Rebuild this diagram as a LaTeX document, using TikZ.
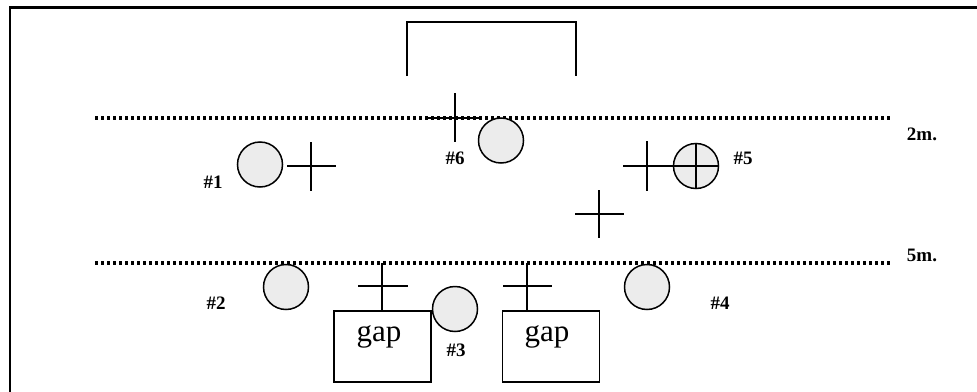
\documentclass[tikz,border=0pt]{standalone}
\usepackage{fontspec}
\setmainfont{Liberation Serif}
\begin{document}
\begin{tikzpicture}[x=1pt,y=-1pt,
  ball/.style={circle,draw,line width=1.5pt,fill=gray!15,minimum size=45pt,inner sep=0pt},
  tag/.style={font=\bfseries\fontsize{19}{19}\selectfont,inner sep=0pt},
  crossline/.style={line width=1.5pt},
  dotline/.style={line width=3.2pt,dash pattern=on 3pt off 3pt},
  gapbox/.style={draw,line width=1.4pt,minimum width=97pt,minimum height=71pt,inner sep=0pt},
  gaptext/.style={font=\fontsize{31}{31}\selectfont,inner sep=0pt},
  framestyle/.style={line width=2.6pt},
  goalstyle/.style={line width=1.6pt}
]
\useasboundingbox (0,0) rectangle (977,391);
% frame
\draw[framestyle] (10,395) -- (10,7.5) -- (980,7.5);
% goal
\coordinate (gl) at (407,76);
\coordinate (gr) at (576,76);
\draw[goalstyle] (gl) -- (407,22) -- (576,22) -- (gr);
% dotted lines
\coordinate (d1a) at (95,118);
\coordinate (d1b) at (891,118);
\coordinate (d2a) at (95,263);
\coordinate (d2b) at (891,263);
\draw[dotline] (d1a) -- (d1b);
\draw[dotline] (d2a) -- (d2b);
\node[tag] (twom) at (922,134) {2m.};
\node[tag] (fivem) at (922,255) {5m.};
% balls
\node[ball] (b1) at (260,164.5) {};
\node[ball] (b6) at (501,140.5) {};
\node[ball] (b5) at (696,166) {};
\node[ball] (b2) at (286,287) {};
\node[ball] (b3) at (455,309) {};
\node[ball] (b4) at (647,287) {};
\draw[crossline] (b5.north) -- (b5.south);
\draw[crossline] (b5.west) -- (b5.east);
% players
\coordinate (p1) at (311,166);
\draw[crossline] (287,166) -- (336,166);
\draw[crossline] (p1) ++(0,-24) -- ++(0,49);
\coordinate (p6) at (455,118);
\draw[crossline] (428,118) -- (482,118);
\draw[crossline] (455,93) -- (455,142);
\coordinate (p5) at (647,166);
\draw[crossline] (623,166) -- (b5.west);
\draw[crossline] (647,141) -- (647,191);
\coordinate (p7) at (599,214);
\draw[crossline] (575,214) -- (624,214);
\draw[crossline] (599,190) -- (599,238);
% gap boxes
\node[gapbox] (g1) at (382.5,346.5) {};
\node[gapbox] (g2) at (551,346.5) {};
\node[gaptext] (g1t) at (379,337) {gap};
\node[gaptext] (g2t) at (547,337) {gap};
\coordinate (c1top) at (382,263);
\coordinate (c2top) at (527,263);
\draw[crossline] (c1top) -- (c1top |- g1.north);
\draw[crossline] (358,286) -- (408,286);
\draw[crossline] (c2top) -- (c2top |- g2.north);
\draw[crossline] (503,286) -- (552,286);
% labels
\node[tag] (l1) at (213,182) {\#1};
\node[tag] (l6) at (455,158) {\#6};
\node[tag] (l5) at (743,158) {\#5};
\node[tag] (l2) at (216,303) {\#2};
\node[tag] (l3) at (456,350) {\#3};
\node[tag] (l4) at (720,303) {\#4};
\end{tikzpicture}
\end{document}
